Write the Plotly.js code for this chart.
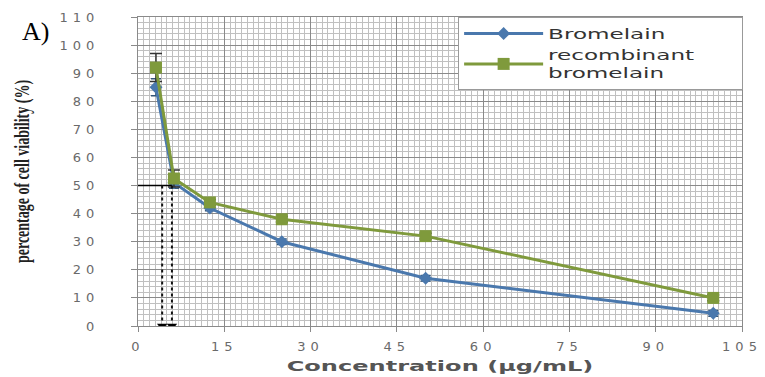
<!DOCTYPE html>
<html>
<head>
<meta charset="utf-8">
<script src="https://cdn.plot.ly/plotly-3.0.1.min.js"></script>
<style>
  body { margin: 0; background: #fff; }
  #chart { width: 765px; height: 377px; }
  .xtick text, .ytick text { letter-spacing: 5px; }
  .legend rect.bg { width: 283.5px; }
  .legend .scrollbox { clip-path: none; }
</style>
</head>
<body>
<div id="chart"></div>
<script>
// Concentrations (µg/mL)
const concentrations = [3.125, 6.25, 12.5, 25, 50, 100];
// Cell viability (%)
const bromelain = [85, 51, 42, 30, 17, 4.5];
const bromelainErr = [3, 2, 1, 1, 1, 1];
const recombinant = [92, 52.5, 44, 38, 32, 10];
const recombinantErr = [5, 3, 1, 1, 1, 1];
// IC50 guide lines
const ic50Level = 50;
const ic50Values = [4.2, 5.9];
const seriesNames = ['Bromelain', 'recombinant<br>bromelain'];
const xTicks = [0, 15, 30, 45, 60, 75, 90, 105];
const yTicks = [0, 10, 20, 30, 40, 50, 60, 70, 80, 90, 100, 110];

const blue = '#4a78ad';
const green = '#7f9a3c';

const traces = [
  {
    x: concentrations, y: bromelain, name: seriesNames[0], type: 'scatter', mode: 'lines+markers',
    line: {color: blue, width: 3},
    marker: {symbol: 'diamond', size: 10, color: blue},
    error_y: {type: 'data', array: bromelainErr, visible: true, color: '#335577', thickness: 1.5, width: 5}
  },
  {
    x: concentrations, y: recombinant, name: seriesNames[1], type: 'scatter', mode: 'lines+markers',
    line: {color: green, width: 3},
    marker: {symbol: 'square', size: 12, color: green},
    error_y: {type: 'data', array: recombinantErr, visible: true, color: '#333333', thickness: 1.5, width: 6}
  },
  {
    x: ic50Values, y: [0, 0], type: 'scatter', mode: 'markers', showlegend: false, hoverinfo: 'skip',
    marker: {symbol: 'triangle-down', size: 9, color: '#000'}
  }
];

const shapes = [
  {type: 'line', xref: 'x', yref: 'y', x0: -1.3, x1: ic50Values[1], y0: ic50Level, y1: ic50Level,
   line: {color: '#000', width: 1.5}}
].concat(ic50Values.map(v => ({
  type: 'line', xref: 'x', yref: 'y', x0: v, x1: v, y0: ic50Level, y1: 1.5,
  line: {color: '#111', width: 2, dash: 'dot'}
})));

const tickFont = {family: 'DejaVu Sans', size: 13, color: '#6a6a6a'};

const layout = {
  width: 765, height: 377,
  margin: {l: 138, r: 23, t: 17, b: 51},
  paper_bgcolor: '#fff', plot_bgcolor: '#fff',
  showlegend: true,
  xaxis: {
    range: [0, 105], tickvals: xTicks, ticktext: xTicks.map(String),
    showgrid: true, gridcolor: '#8a8a8a', gridwidth: 1,
    minor: {dtick: 1, showgrid: true, gridcolor: '#c0c0c0', gridwidth: 1},
    zeroline: false, showline: true, linecolor: '#8a8a8a', mirror: true,
    ticks: 'outside', ticklen: 5, tickcolor: '#8a8a8a',
    tickfont: tickFont, ticklabelstandoff: 3,
    title: {text: '<b>Concentration (µg/mL)</b>', font: {family: 'DejaVu Sans', size: 14, color: '#555'}, standoff: 8}
  },
  yaxis: {
    range: [0, 110], tickvals: yTicks, ticktext: yTicks.map(String),
    showgrid: true, gridcolor: '#8a8a8a', gridwidth: 1,
    minor: {dtick: 2, showgrid: true, gridcolor: '#c0c0c0', gridwidth: 1},
    zeroline: false, showline: true, linecolor: '#8a8a8a', mirror: true,
    ticks: 'outside', ticklen: 6, tickcolor: '#8a8a8a',
    tickfont: tickFont, ticklabelstandoff: 29,
    title: {text: '<b>percentage of cell viability (%)</b>', font: {family: 'Liberation Serif', size: 14, color: '#222'}, standoff: 28}
  },
  legend: {
    x: 0.53, y: 1, xanchor: 'left', yanchor: 'top',
    bgcolor: '#fff', bordercolor: '#999', borderwidth: 1,
    font: {family: 'DejaVu Sans', size: 14, color: '#333'},
    itemwidth: 79, tracegroupgap: 6
  },
  shapes: shapes,
  annotations: [
    {text: 'A)', xref: 'paper', yref: 'paper', x: -0.195, y: 1.005, xanchor: 'left', yanchor: 'top',
     showarrow: false, font: {family: 'Liberation Serif', size: 26, color: '#000'}}
  ]
};

// widen text horizontally around an anchor (the reference uses a very wide typeface)
function widen(el, s, anchor) {
  try {
    const cur = el.getAttribute('transform') || '';
    if (el.dataset.applied !== undefined && el.dataset.applied === cur) return;
    const pctm = el.parentNode && el.parentNode.getScreenCTM ? el.parentNode.getScreenCTM() : null;
    if (!pctm) return;
    const r = el.getBoundingClientRect();
    if (!r.width) return;
    let sx;
    if (anchor === 'left') sx = r.left;
    else if (anchor === 'right') sx = r.right;
    else sx = (r.left + r.right) / 2;
    const pt = el.ownerSVGElement.createSVGPoint();
    pt.x = sx; pt.y = (r.top + r.bottom) / 2;
    const cx = pt.matrixTransform(pctm.inverse()).x;
    el.setAttribute('transform', `translate(${cx},0) scale(${s},1) translate(${-cx},0) ${cur}`);
    el.dataset.applied = el.getAttribute('transform');
  } catch (e) { /* ignore */ }
}

let busy = false;
function styleText(gd) {
  if (busy) return;
  busy = true;
  try {
    gd.querySelectorAll('.legendtext').forEach(el => widen(el, 1.65, 'left'));
    gd.querySelectorAll('.xtitle').forEach(el => widen(el, 1.72, 'center'));
    gd.querySelectorAll('.ytitle').forEach(el => widen(el, 1.5, 'center'));
  } catch (e) { /* ignore */ }
  busy = false;
}

Plotly.newPlot('chart', traces, layout, {displayModeBar: false, staticPlot: true}).then(gd => {
  styleText(gd);
  const obs = new MutationObserver(() => styleText(gd));
  obs.observe(gd, {subtree: true, childList: true, attributes: true, attributeFilter: ['transform']});
  gd.on('plotly_afterplot', () => styleText(gd));
  requestAnimationFrame(() => styleText(gd));
  [50, 200, 500, 1000].forEach(t => setTimeout(() => styleText(gd), t));
});
</script>
</body>
</html>
